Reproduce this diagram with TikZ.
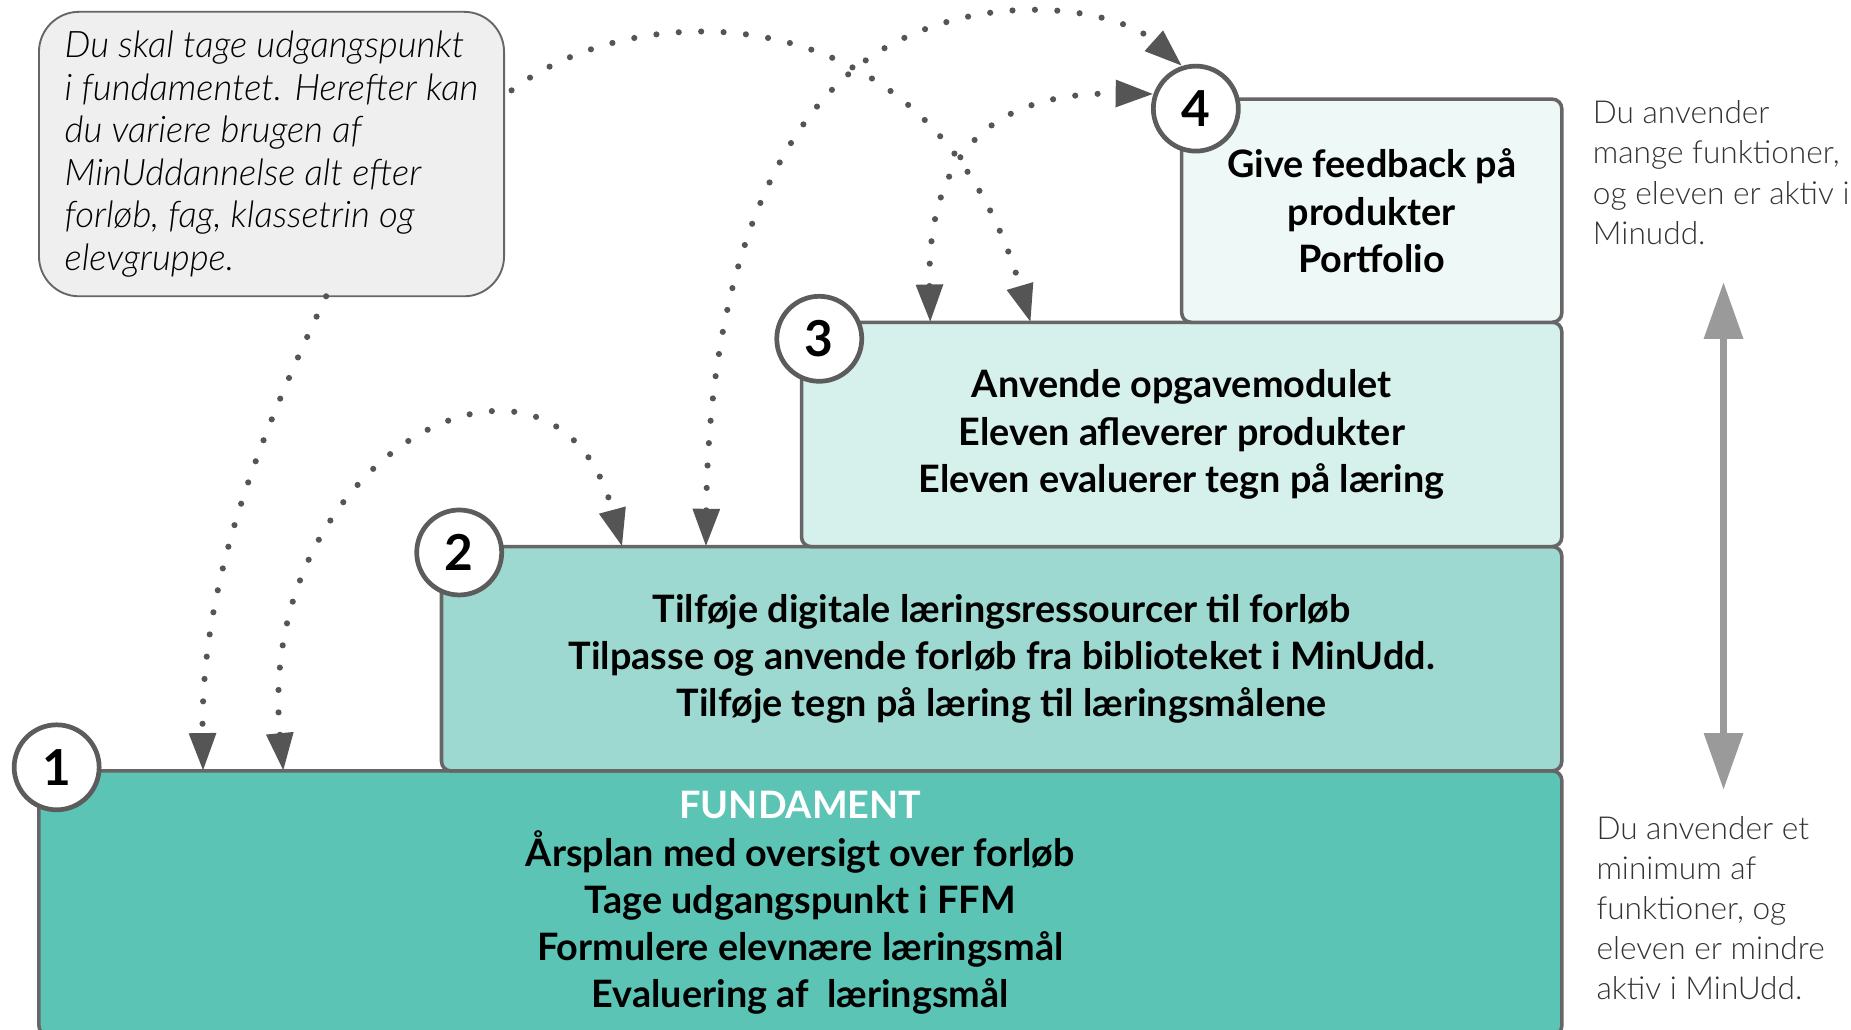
\documentclass[tikz,border=0pt]{standalone}
\usepackage{fontspec}
\setmainfont{Lato}
\newfontfamily\lightfont{Lato Light}
\usetikzlibrary{positioning,arrows.meta}
\definecolor{fundfill}{HTML}{5BC4B5}
\definecolor{twofill}{HTML}{9DD9D0}
\definecolor{threefill}{HTML}{D6F0EB}
\definecolor{fourfill}{HTML}{EEF8F6}
\definecolor{notefill}{HTML}{EFEFEF}
\definecolor{edgegray}{HTML}{666666}
\definecolor{dotgray}{HTML}{555555}
\definecolor{sidegray}{HTML}{9A9A9A}
\definecolor{sidetext}{HTML}{333333}
\tikzset{
  stepbox/.style={draw=edgegray, line width=1.5pt, rounded corners=4pt, outer sep=0pt, inner sep=0pt, align=center, font=\bfseries\fontsize{16}{20}\selectfont},
  stepnum/.style={circle, draw=edgegray!90!black, fill=white, line width=2pt, minimum size=36pt, inner sep=0pt, font=\bfseries\fontsize{21}{21}\selectfont},
  notebox/.style={draw=edgegray, fill=notefill, line width=0.8pt, rounded corners=17pt, outer sep=0pt, align=left, font=\lightfont\itshape\fontsize{15.5}{18}\selectfont},
  sidenote/.style={align=left, text=sidetext, inner sep=0pt, font=\lightfont\fontsize{13.4}{17}\selectfont},
  dotline/.style={draw=dotgray, line width=2.6pt, line cap=round, dash pattern=on 0pt off 9.5pt},
  onehead/.style={dotline, -{Triangle[length=16pt,width=11pt]}},
  twohead/.style={dotline, {Triangle[length=16pt,width=11pt]}-{Triangle[length=16pt,width=11pt]}},
  updown/.style={draw=sidegray, line width=3pt, {Triangle[length=24pt,width=16pt]}-{Triangle[length=24pt,width=16pt]}}
}
\begin{document}
\begin{tikzpicture}[x=0.5pt,y=-0.5pt]
\useasboundingbox (0,0) rectangle (1568,872);
% steps
\node[stepbox, fill=fundfill, anchor=north west, minimum width=645pt, minimum height=112pt] (B1) at (33,653) {{\color{white}FUNDAMENT}\\ Årsplan med oversigt over forløb\\ Tage udgangspunkt i FFM\\ Formulere elevnære læringsmål\\ Evaluering af\ \ læringsmål};
\node[stepbox, fill=twofill, anchor=south east, minimum width=474.5pt, minimum height=95pt] (B2) at (B1.north east) {Tilføje digitale læringsressourcer til forløb\\ Tilpasse og anvende forløb fra biblioteket i MinUdd.\\ Tilføje tegn på læring til læringsmålene};
\node[stepbox, fill=threefill, anchor=south east, minimum width=322pt, minimum height=95pt] (B3) at (B2.north east) {Anvende opgavemodulet\\ Eleven afleverer produkter\\ Eleven evaluerer tegn på læring};
\node[stepbox, fill=fourfill, anchor=south east, minimum width=161pt, minimum height=94.5pt] (B4) at (B3.north east) {Give feedback på\\ produkter\\ Portfolio};
% numbers
\node[stepnum] (C1) at ([shift={(7.5pt,1.5pt)}]B1.north west) {1};
\node[stepnum] (C2) at ([shift={(7.5pt,-2.5pt)}]B2.north west) {2};
\node[stepnum] (C3) at ([shift={(7.5pt,-7pt)}]B3.north west) {3};
\node[stepnum] (C4) at ([shift={(6pt,-4pt)}]B4.north west) {4};
% callout and side texts
\node[notebox, anchor=north west, minimum width=197pt, minimum height=120.5pt] (Note) at (33,10) {Du skal tage udgangspunkt\\ i fundamentet. Herefter kan\\ du variere brugen af\\ MinUddannelse alt efter\\ forløb, fag, klassetrin og\\ elevgruppe.};
\node[sidenote, anchor=north west] (Many) at (1349,85) {Du anvender\\ mange funktioner,\\ og eleven er aktiv i\\ Minudd.};
\node[sidenote, anchor=north west] (Few) at (1352,691) {Du anvender et\\ minimum af\\ funktioner, og\\ eleven er mindre\\ aktiv i MinUdd.};
\coordinate (Gtop) at (1460,239);
\coordinate (Gbot) at (1460,669);
\draw[updown] (Gtop) -- (Gbot);
% arrow ends on the steps
\coordinate (B1p) at ([xshift=69.5pt]B1.north west);
\coordinate (B1q) at ([xshift=103.5pt]B1.north west);
\coordinate (B2p) at ([xshift=76.5pt]B2.north west);
\coordinate (B2q) at ([xshift=112pt]B2.north west);
\coordinate (B3p) at ([xshift=54.5pt]B3.north west);
\coordinate (B3q) at ([xshift=97pt]B3.north west);
% dotted arrows
\draw[onehead] (Note.-69) .. controls (215,380) and (170,500) .. (B1p);
\draw[twohead] (B1q) .. controls (215,385) and (470,250) .. (B2p);
\draw[onehead, shorten <=4pt] (Note.14) .. controls (540,-5) and (790,-10) .. (B3q);
\draw[twohead] (B2q) .. controls (600,250) and (650,90) .. (760,35) .. controls (850,-10) and (950,10) .. (C4.108);
\draw[twohead] (B3p) .. controls (785,120) and (850,78) .. (C4.161);
\end{tikzpicture}
\end{document}
